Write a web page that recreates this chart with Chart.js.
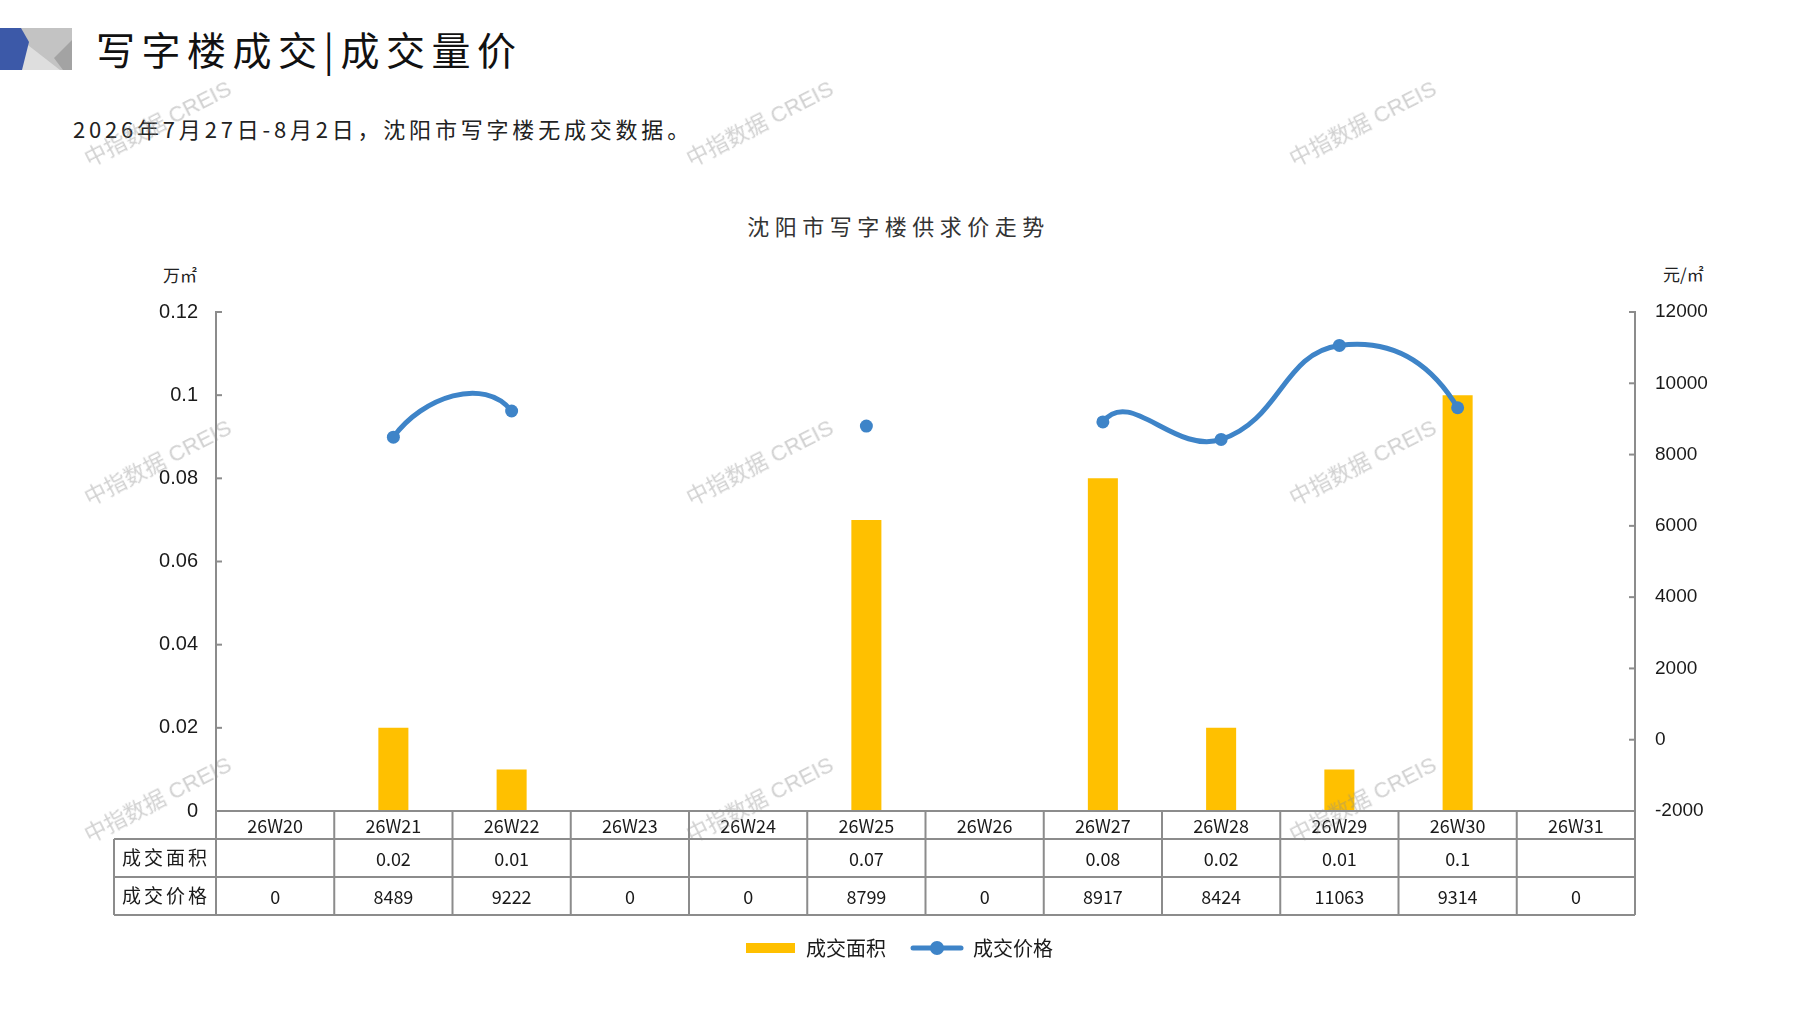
<!DOCTYPE html>
<html>
<head>
<meta charset="utf-8">
<script src="https://cdn.jsdelivr.net/npm/chart.js@4/dist/chart.umd.min.js"></script>
<style>
  html, body { margin: 0; padding: 0; background: #ffffff; }
  #wrap { position: relative; width: 1797px; height: 1010px; overflow: hidden; background: #fff; }
  #c { position: absolute; left: 0; top: 0; }
  .txt { position: absolute; font-family: 'Noto Sans CJK SC', 'Noto Sans', sans-serif; white-space: nowrap; line-height: 1; }
  .wm { position: absolute; font-family: 'Liberation Sans', 'Noto Sans CJK SC', sans-serif; font-size: 22px; color: rgba(140,140,140,0.40);
        white-space: nowrap; transform: translate(-50%, -50%) rotate(-27deg); pointer-events: none; line-height: 1; }
</style>
</head>
<body>
<div id="wrap">
  <svg style="position:absolute;left:0;top:0" width="80" height="80">
    <rect x="20" y="28" width="52" height="42" fill="#c3c3c3"/>
    <polygon points="24,42 60,70 20,70" fill="#dedede"/>
    <polygon points="72,40 72,70 63,70 54,58" fill="#a3a3a3"/>
    <polygon points="0,28 21,28 29,42 22,70 0,70" fill="#3c59a8"/>
  </svg>
  <div class="txt" style="left:96px;top:29px;font-size:39px;letter-spacing:6.5px;color:#111;">写字楼成交|成交量价</div>
  <div class="txt" style="left:73px;top:117px;font-size:22px;letter-spacing:3.8px;color:#222;">2026年7月27日-8月2日，沈阳市写字楼无成交数据。</div>
  <div class="txt" style="left:0;width:1797px;text-align:center;top:214px;font-size:22px;letter-spacing:5.5px;color:#333;">沈阳市写字楼供求价走势</div>
  <div class="txt" style="left:163px;top:266px;font-size:17px;color:#222;">万㎡</div>
  <div class="txt" style="left:1663px;top:265px;font-size:17px;color:#222;">元/㎡</div>
  <canvas id="c" width="1797" height="1010"></canvas>
  <div class="wm" style="left:158px;top:124px;">中指数据 CREIS</div>
  <div class="wm" style="left:760px;top:124px;">中指数据 CREIS</div>
  <div class="wm" style="left:1363px;top:124px;">中指数据 CREIS</div>
  <div class="wm" style="left:158px;top:463px;">中指数据 CREIS</div>
  <div class="wm" style="left:760px;top:463px;">中指数据 CREIS</div>
  <div class="wm" style="left:1363px;top:463px;">中指数据 CREIS</div>
  <div class="wm" style="left:158px;top:800px;">中指数据 CREIS</div>
  <div class="wm" style="left:760px;top:800px;">中指数据 CREIS</div>
  <div class="wm" style="left:1363px;top:800px;">中指数据 CREIS</div>
</div>
<script>
// ---- data ----
const categories = ['26W20','26W21','26W22','26W23','26W24','26W25','26W26','26W27','26W28','26W29','26W30','26W31'];
const areaValues = [null, 0.02, 0.01, null, null, 0.07, null, 0.08, 0.02, 0.01, 0.1, null];
const priceValues = [0, 8489, 9222, 0, 0, 8799, 0, 8917, 8424, 11063, 9314, 0];
const areaLabel = '成交面积';
const priceLabel = '成交价格';
const leftTicks = { min: 0, max: 0.12, step: 0.02 };
const rightTicks = { min: -2000, max: 12000, step: 2000 };

// ---- styles ----
const BAR_COLOR = '#FFC000';
const LINE_COLOR = '#3E84C8';
const AXIS_COLOR = '#8c8c8c';
const TEXT_COLOR = '#1a1a1a';

function makeBarSwatch() {
  const c = document.createElement('canvas');
  c.width = 49; c.height = 10;
  const x = c.getContext('2d');
  x.fillStyle = BAR_COLOR; x.fillRect(0, 0, 49, 10);
  return c;
}
function makeLineSwatch() {
  const c = document.createElement('canvas');
  c.width = 54; c.height = 16;
  const x = c.getContext('2d');
  x.strokeStyle = LINE_COLOR; x.lineWidth = 5; x.lineCap = 'round';
  x.beginPath(); x.moveTo(3, 8); x.lineTo(51, 8); x.stroke();
  x.fillStyle = LINE_COLOR; x.beginPath(); x.arc(27, 8, 7, 0, Math.PI * 2); x.fill();
  return c;
}
const barSwatch = makeBarSwatch();
const lineSwatch = makeLineSwatch();

const tablePlugin = {
  id: 'dataTable',
  afterDraw(chart) {
    const ctx = chart.ctx;
    const ca = chart.chartArea;
    const xs = chart.scales.x;
    const n = categories.length;
    const cw = (ca.right - ca.left) / n;
    const top = ca.bottom;
    const r1 = top + 28, r2 = top + 66, r3 = top + 104;
    const tableLeft = 114;
    ctx.save();
    // inward tick marks
    ctx.strokeStyle = AXIS_COLOR; ctx.lineWidth = 2;
    chart.scales.y.ticks.forEach(t => {
      const y = chart.scales.y.getPixelForValue(t.value);
      ctx.beginPath(); ctx.moveTo(ca.left, y); ctx.lineTo(ca.left + 6, y); ctx.stroke();
    });
    chart.scales.y1.ticks.forEach(t => {
      const y = chart.scales.y1.getPixelForValue(t.value);
      ctx.beginPath(); ctx.moveTo(ca.right, y); ctx.lineTo(ca.right - 6, y); ctx.stroke();
    });
    // table grid
    ctx.beginPath();
    ctx.moveTo(ca.left, top); ctx.lineTo(ca.right, top);
    ctx.moveTo(tableLeft, r1); ctx.lineTo(ca.right, r1);
    ctx.moveTo(tableLeft, r2); ctx.lineTo(ca.right, r2);
    ctx.moveTo(tableLeft, r3); ctx.lineTo(ca.right, r3);
    ctx.moveTo(tableLeft, r1); ctx.lineTo(tableLeft, r3);
    for (let i = 0; i <= n; i++) {
      const x = ca.left + i * cw;
      ctx.moveTo(x, top); ctx.lineTo(x, r3);
    }
    ctx.stroke();
    // texts
    ctx.fillStyle = TEXT_COLOR;
    ctx.textAlign = 'center';
    ctx.textBaseline = 'middle';
    ctx.font = '18px "Noto Sans CJK SC", "Noto Sans", sans-serif';
    categories.forEach((c, i) => {
      const x = xs.getPixelForValue(i);
      ctx.fillText(c, x, (top + r1) / 2 + 1);
      const a = areaValues[i];
      if (a !== null && a !== undefined) ctx.fillText(String(a), x, (r1 + r2) / 2 + 1);
      const p = priceValues[i];
      if (p !== null && p !== undefined) ctx.fillText(String(p), x, (r2 + r3) / 2 + 1);
    });
    ctx.font = '19px "Noto Sans CJK SC", sans-serif';
    ctx.letterSpacing = '3px';
    ctx.fillText(areaLabel, (tableLeft + ca.left) / 2 + 1, (r1 + r2) / 2);
    ctx.fillText(priceLabel, (tableLeft + ca.left) / 2 + 1, (r2 + r3) / 2);
    ctx.restore();
  }
};

const chart = new Chart(document.getElementById('c'), {
  type: 'bar',
  data: {
    labels: categories,
    datasets: [
      {
        type: 'line',
        label: priceLabel,
        data: priceValues,
        yAxisID: 'y1',
        borderColor: LINE_COLOR,
        backgroundColor: LINE_COLOR,
        borderWidth: 5,
        tension: 0.45,
        pointRadius: c => (c.raw === 0 ? 0 : 6.5),
        pointHoverRadius: c => (c.raw === 0 ? 0 : 6.5),
        pointBorderWidth: 0,
        pointBackgroundColor: LINE_COLOR,
        segment: {
          borderColor: c => (c.p0.parsed.y === 0 || c.p1.parsed.y === 0) ? 'rgba(0,0,0,0)' : undefined
        }
      },
      {
        type: 'bar',
        label: areaLabel,
        data: areaValues,
        yAxisID: 'y',
        backgroundColor: BAR_COLOR,
        barPercentage: 0.254,
        categoryPercentage: 1.0
      }
    ]
  },
  options: {
    responsive: false,
    animation: false,
    layout: { padding: { top: 312, left: 0, right: 0, bottom: 42 } },
    plugins: {
      tooltip: { enabled: false },
      title: { display: false },
      legend: {
        display: true,
        position: 'bottom',
        labels: {
          usePointStyle: true,
          pointStyleWidth: 52,
          padding: 25,
          color: TEXT_COLOR,
          font: { size: 20, family: '"Noto Sans CJK SC", sans-serif' },
          generateLabels: (ch) => {
            const items = Chart.defaults.plugins.legend.labels.generateLabels(ch);
            items.forEach(it => {
              it.pointStyle = it.datasetIndex === 1 ? barSwatch : lineSwatch;
            });
            return items.reverse();
          }
        }
      }
    },
    scales: {
      x: {
        type: 'category',
        offset: true,
        ticks: { display: false },
        grid: { display: false, drawTicks: false },
        border: { display: false },
        afterFit: s => { s.height = 102; }
      },
      y: {
        position: 'left',
        min: leftTicks.min, max: leftTicks.max,
        ticks: {
          stepSize: leftTicks.step,
          padding: 18,
          color: TEXT_COLOR,
          font: { size: 20, family: '"Liberation Sans", Arial, sans-serif' },
          callback: v => String(Number(v.toFixed(2)))
        },
        grid: { display: false, drawTicks: false },
        border: { display: true, color: AXIS_COLOR, width: 2 },
        afterFit: s => { s.width = 216; }
      },
      y1: {
        position: 'right',
        min: rightTicks.min, max: rightTicks.max,
        ticks: {
          stepSize: rightTicks.step,
          padding: 20,
          color: TEXT_COLOR,
          font: { size: 19, family: '"Liberation Sans", Arial, sans-serif' },
          callback: v => String(Math.round(v))
        },
        grid: { display: false, drawTicks: false },
        border: { display: true, color: AXIS_COLOR, width: 2 },
        afterFit: s => { s.width = 162; }
      }
    }
  },
  plugins: [tablePlugin]
});
</script>
</body>
</html>
